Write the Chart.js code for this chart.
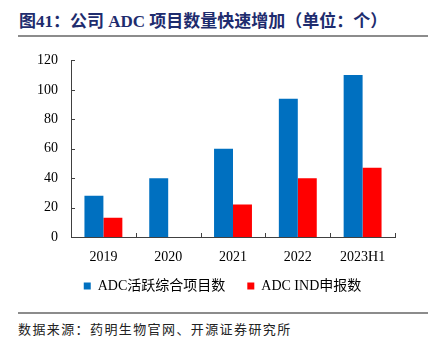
<!DOCTYPE html>
<html>
<head>
<meta charset="utf-8">
<script src="https://cdn.jsdelivr.net/npm/chart.js@4"></script>
<style>
  html, body { margin: 0; padding: 0; background: #fff; }
  body { width: 433px; height: 346px; position: relative; overflow: hidden; }
  #title {
    position: absolute; left: 19px; top: 7px;
    font-family: "Liberation Serif", "Noto Sans CJK SC", serif;
    font-weight: bold; font-size: 17px; color: #1e2c6e; white-space: nowrap;
  }
  .rule { position: absolute; left: 18px; width: 410px; height: 2px; background: #8c8c8c; }
  #wrap { position: absolute; left: 0; top: 39px; width: 433px; height: 272px; }
  #source {
    position: absolute; left: 18px; top: 319px;
    font-family: "Noto Sans CJK SC", sans-serif; font-size: 13px; color: #222;
    letter-spacing: 1.4px; white-space: nowrap;
  }
</style>
</head>
<body>
<div id="title">图41：公司 ADC 项目数量快速增加（单位：个）</div>
<div class="rule" style="top:35px"></div>
<div id="wrap"><canvas id="grafico"></canvas></div>
<div class="rule" style="top:312px"></div>
<div id="source">数据来源：药明生物官网、开源证券研究所</div>
<script>
const categorias = ['2019', '2020', '2021', '2022', '2023H1'];
const projetosAtivos = [28, 40, 60, 94, 110];
const indSubmetidos = [13, null, 22, 40, 47];
const yTicks = [0, 20, 40, 60, 80, 100, 120];

const serif = '"Liberation Serif", "Noto Sans CJK SC", serif';
const axisColor = '#404040';

// small inward tick marks, like the original
const innerTicks = {
  id: 'innerTicks',
  afterLayout(chart) {
    // legend in the original sits centred on the whole page, not on the plot
    const lg = chart.legend;
    lg.left += 25;
    lg.right += 25;
    lg.top -= 8;
    lg.bottom -= 8;
  },
  afterDraw(chart) {
    const { ctx, chartArea, scales } = chart;
    ctx.save();
    ctx.strokeStyle = axisColor;
    ctx.lineWidth = 1;
    ctx.beginPath();
    yTicks.forEach(v => {
      const y = Math.round(scales.y.getPixelForValue(v)) + 0.5;
      ctx.moveTo(chartArea.left, y);
      ctx.lineTo(chartArea.left + 4, y);
    });
    const step = (chartArea.right - chartArea.left) / categorias.length;
    for (let i = 1; i <= categorias.length; i++) {
      const x = Math.round(chartArea.left + step * i) + 0.5;
      ctx.moveTo(x, chartArea.bottom);
      ctx.lineTo(x, chartArea.bottom - 4);
    }
    ctx.stroke();
    ctx.restore();
  }
};

const grafico = new Chart(document.getElementById('grafico'), {
  type: 'bar',
  data: {
    labels: categorias,
    datasets: [{
      label: 'ADC活跃综合项目数',
      data: projetosAtivos,
      backgroundColor: '#0070c0'
    }, {
      label: 'ADC IND申报数',
      data: indSubmetidos,
      backgroundColor: '#ff0000'
    }]
  },
  options: {
    responsive: true,
    maintainAspectRatio: false,
    animation: false,
    datasets: { bar: { categoryPercentage: 0.585, barPercentage: 1 } },
    layout: { padding: { left: 0, right: 38, top: 9, bottom: 0 } },
    plugins: {
      tooltip: { enabled: false },
      legend: {
        position: 'bottom',
        labels: {
          boxWidth: 7, boxHeight: 7, padding: 22,
          color: '#000',
          font: { family: serif, size: 14 }
        }
      }
    },
    scales: {
      x: {
        grid: { display: false, drawTicks: false },
        border: { color: axisColor, width: 1 },
        ticks: { color: '#000', padding: 12, font: { family: serif, size: 14 } },
        afterFit: s => { s.height = 28; }
      },
      y: {
        min: 0, max: 120,
        grid: { display: false, drawTicks: false },
        border: { color: axisColor, width: 1 },
        ticks: { stepSize: 20, color: '#000', padding: 13, font: { family: serif, size: 14 } },
        afterFit: s => { s.width = 71; }
      }
    }
  },
  plugins: [innerTicks]
});
</script>
</body>
</html>
